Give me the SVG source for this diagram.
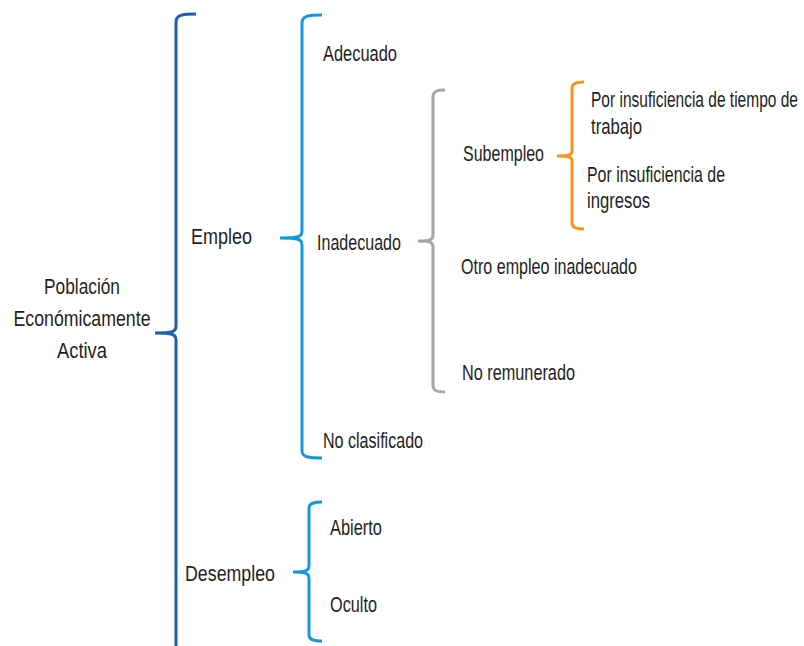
<svg xmlns="http://www.w3.org/2000/svg" width="804" height="646" viewBox="0 0 804 646">
<style>
text{font-family:"Liberation Sans Narrow","Liberation Sans",Arial,sans-serif;font-size:22px;fill:#1e1e1e}
.b{fill:none;stroke-width:3;stroke-linecap:butt;stroke-linejoin:round}
.dk{stroke:#1d5fa8}
.lb{stroke:#1597d8}
.gr{stroke:#a6a6a6}
.or{stroke:#f7941d}
</style>
<rect width="804" height="646" fill="#ffffff"/>
<g id="connectors">
<path class="b dk" d="M196 14 C182 14 176 15 176 22 L176 326 C176 332 172 333 155 333 M155 333 C172 333 176 334 176 340 L176 660"/>
<path class="b lb" d="M322 15 C308 15 302 16 302 23 L302 231 C302 237 298 238 280 238 M280 238 C298 238 302 239 302 245 L302 451 C302 457 308 458 322 458"/>
<path class="b gr" d="M445 90 C437 90 433 91 433 97 L433 235 C433 240 430 241 418 241 M418 241 C430 241 433 242 433 247 L433 385 C433 391 437 392 445 392"/>
<path class="b or" d="M584 82 C577 82 572 83 572 88 L572 151 C572 155 569 156 557 156 M557 156 C569 156 572 157 572 161 L572 223 C572 228 577 229 584 229"/>
<path class="b lb" d="M322 502 C314 502 309 503 309 508 L309 566 C309 571 305 572 293 572 M293 572 C305 572 309 573 309 578 L309 635 C309 640 314 641 322 641"/>
</g>
<g id="pea">
<text x="82" y="294" text-anchor="middle" textLength="76" lengthAdjust="spacingAndGlyphs">Población</text>
<text x="82" y="326" text-anchor="middle" textLength="137" lengthAdjust="spacingAndGlyphs">Económicamente</text>
<text x="82" y="358" text-anchor="middle" textLength="50" lengthAdjust="spacingAndGlyphs">Activa</text>
</g>
<g id="empleo"><text x="191" y="244" textLength="61" lengthAdjust="spacingAndGlyphs">Empleo</text></g>
<g id="desempleo"><text x="185" y="581" textLength="90" lengthAdjust="spacingAndGlyphs">Desempleo</text></g>
<g id="adecuado"><text x="323" y="61" textLength="74" lengthAdjust="spacingAndGlyphs">Adecuado</text></g>
<g id="inadecuado"><text x="317" y="250" textLength="84" lengthAdjust="spacingAndGlyphs">Inadecuado</text></g>
<g id="noclasificado"><text x="323" y="448" textLength="100" lengthAdjust="spacingAndGlyphs">No clasificado</text></g>
<g id="subempleo"><text x="463" y="161" textLength="81" lengthAdjust="spacingAndGlyphs">Subempleo</text></g>
<g id="otroempleo"><text x="461" y="274" textLength="176" lengthAdjust="spacingAndGlyphs">Otro empleo inadecuado</text></g>
<g id="noremunerado"><text x="462" y="380" textLength="113" lengthAdjust="spacingAndGlyphs">No remunerado</text></g>
<g id="tiempo">
<text x="591" y="107" textLength="207" lengthAdjust="spacingAndGlyphs">Por insuficiencia de tiempo de</text>
<text x="591" y="134" textLength="51" lengthAdjust="spacingAndGlyphs">trabajo</text>
</g>
<g id="ingresos">
<text x="587" y="182" textLength="138" lengthAdjust="spacingAndGlyphs">Por insuficiencia de</text>
<text x="587" y="208" textLength="63" lengthAdjust="spacingAndGlyphs">ingresos</text>
</g>
<g id="abierto"><text x="330" y="535" textLength="52" lengthAdjust="spacingAndGlyphs">Abierto</text></g>
<g id="oculto"><text x="330" y="612" textLength="47" lengthAdjust="spacingAndGlyphs">Oculto</text></g>
</svg>
